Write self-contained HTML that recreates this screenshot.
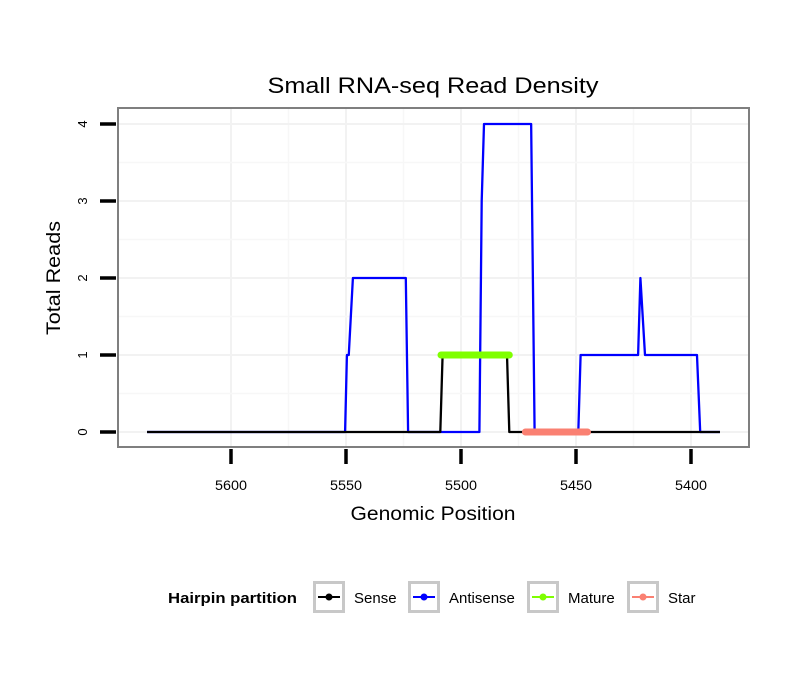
<!DOCTYPE html>
<html><head><meta charset="utf-8"><style>
body{margin:0;background:#fff;}
text{font-family:"Liberation Sans",sans-serif;}
</style></head><body>
<svg width="810" height="690" xmlns="http://www.w3.org/2000/svg">
<rect width="810" height="690" fill="#fff"/>
<text x="433" y="93" font-size="22" textLength="331" lengthAdjust="spacingAndGlyphs" text-anchor="middle">Small RNA-seq Read Density</text>
<g id="grid"></g>
<g id="series"></g>
<rect x="118" y="108" width="631" height="339" fill="none" stroke="#7f7f7f" stroke-width="2"/>
<g id="axes"></g>
<text x="433" y="520" font-size="19" textLength="165" lengthAdjust="spacingAndGlyphs" text-anchor="middle">Genomic Position</text>
<text transform="translate(60,278) rotate(-90)" font-size="19" textLength="114" lengthAdjust="spacingAndGlyphs" text-anchor="middle">Total Reads</text>
<g>
<text x="168" y="603" font-size="15" font-weight="bold" textLength="129" lengthAdjust="spacingAndGlyphs">Hairpin partition</text>
<g id="legend"></g>
</g>
</svg>
<script>
const xTicks=[5600,5550,5500,5450,5400];
const yTicks=[0,1,2,3,4];
const sensePos=[5636.5,5509,5508,5480,5479,5387.4];
const senseVal=[0,0,1,1,0,0];
const antiPos=[5636.5,5550.4,5549.6,5548.8,5547,5524,5523,5492,5491,5490,5469.5,5468,5449,5448,5423,5422,5420,5397.4,5396,5387.4];
const antiVal=[0,0,1,1,2,2,0,0,3,4,4,0,0,1,1,2,1,1,0,0];
const maturePos=[5508.7,5479];
const matureVal=[1,1];
const starPos=[5472,5445];
const starVal=[0,0];
const legendLabels=['Sense','Antisense','Mature','Star'];
const legendColors=['#000','#0000ff','#7fff00','#fa8072'];
const NS='http://www.w3.org/2000/svg';
const X=p=>461+(5500-p)*2.3;
const Y=v=>432-v*77;
function mk(tag,attrs,parent){const e=document.createElementNS(NS,tag);for(const k in attrs)e.setAttribute(k,attrs[k]);document.getElementById(parent).appendChild(e);return e;}
for(let i=0;i<xTicks.length;i++){
 const l=mk('line',{x1:X(xTicks[i]),x2:X(xTicks[i]),y1:109,y2:446,stroke:'#f2f2f2','stroke-width':2},'grid');
 
 
 if(i<xTicks.length-1){const m=(xTicks[i]+xTicks[i+1])/2;const l2=mk('line',{x1:X(m),x2:X(m),y1:109,y2:446,stroke:'#f7f7f7','stroke-width':1.5},'grid');
 
 }
}
for(let i=0;i<yTicks.length;i++){
 const l=mk('line',{x1:119,x2:748,y1:Y(yTicks[i]),y2:Y(yTicks[i]),stroke:'#f2f2f2','stroke-width':2},'grid');
 
 
 if(i<yTicks.length-1){const m=yTicks[i]+0.5;const l2=mk('line',{x1:119,x2:748,y1:Y(m),y2:Y(m),stroke:'#f7f7f7','stroke-width':1.5},'grid');
 
 }
}
function line(pos,val,color,w,name,cap){
 const d=pos.map((p,i)=>(i?'L':'M')+X(p)+','+Y(val[i])).join(' ');
 const e=mk('path',{d:d,fill:'none',stroke:color,'stroke-width':w,'stroke-linecap':cap||'butt','stroke-linejoin':'round'},'series');
 
 
}
line(antiPos,antiVal,'#0000ff',2.3,'antisense-line');
line(sensePos,senseVal,'#000',2.3,'sense-line');
line(maturePos,matureVal,'#7fff00',7,'mature-line','round');
line(starPos,starVal,'#fa8072',7,'star-line','round');
xTicks.forEach(t=>{
 const l=mk('line',{x1:X(t),x2:X(t),y1:449,y2:464,stroke:'#000','stroke-width':3.5},'axes');
 
 
 const tx=mk('text',{x:X(t),y:490,'font-size':14,textLength:32,lengthAdjust:'spacingAndGlyphs','text-anchor':'middle'},'axes');tx.textContent=t;
 
 
});
yTicks.forEach(t=>{
 const l=mk('line',{x1:100,x2:116,y1:Y(t),y2:Y(t),stroke:'#000','stroke-width':3.5},'axes');
 
 
 const tx=mk('text',{transform:'translate(87,'+Y(t)+') rotate(-90)','font-size':13,'text-anchor':'middle'},'axes');tx.textContent=t;
 
 
});
const keyX=[313,408,527,627];
legendLabels.forEach((lab,i)=>{
 const x=keyX[i];
 const r=mk('rect',{x:x+1.5,y:582.5,width:29,height:29,fill:'#fff',stroke:'#c8c8c8','stroke-width':3},'legend');
 
 
 mk('line',{x1:x+5,x2:x+27,y1:597,y2:597,stroke:legendColors[i],'stroke-width':2},'legend');
 mk('circle',{cx:x+16,cy:597,r:3.5,fill:legendColors[i]},'legend');
 const t=mk('text',{x:x+41,y:603,'font-size':15},'legend');t.textContent=lab;
 
 
});
</script>
</body></html>
